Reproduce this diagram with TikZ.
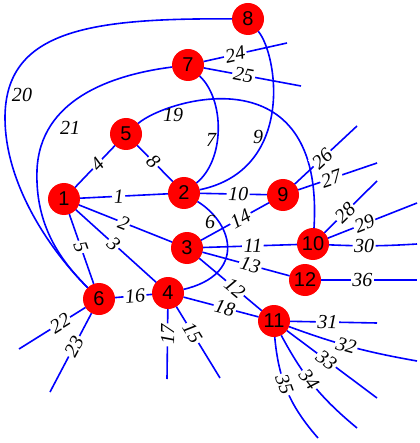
\documentclass[tikz,border=0pt]{standalone}
\usepackage{fontspec}
\setmainfont{Liberation Serif}
\newfontfamily\nodefont{Liberation Sans}
\begin{document}
\begin{tikzpicture}[x=1pt,y=-1pt,
  vtx/.style={circle, fill=red, draw=none, minimum size=32pt, inner sep=0pt, outer sep=0pt, font=\nodefont\fontsize{20}{20}\selectfont},
  edge/.style={draw=blue, line width=1.6pt},
  lbl/.style={fill=white, inner sep=1.5pt, font=\itshape\fontsize{20}{20}\selectfont, sloped},
  clbl/.style={inner sep=0pt, font=\itshape\fontsize{20}{20}\selectfont}]
\useasboundingbox (0,0) rectangle (419,443);
\fill[white] (0,0) rectangle (419,443);
% vertices
\node[vtx] (n1) at (64,199) {1};
\node[vtx] (n2) at (184,193) {2};
\node[vtx] (n3) at (187,248) {3};
\node[vtx] (n4) at (168,293) {4};
\node[vtx] (n5) at (126,134) {5};
\node[vtx] (n6) at (99,299) {6};
\node[vtx] (n7) at (188,65) {7};
\node[vtx] (n8) at (248,19) {8};
\node[vtx] (n9) at (283,195) {9};
\node[vtx] (n10) at (313,244) {10};
\node[vtx] (n11) at (274,321) {11};
\node[vtx] (n12) at (305,280) {12};
% free ends
\coordinate (e15) at (220,378);
\coordinate (e17) at (167,379);
\coordinate (e22) at (19,349);
\coordinate (e23) at (50,392);
\coordinate (e24) at (287,43);
\coordinate (e25) at (301,86);
\coordinate (e26) at (357,126);
\coordinate (e27) at (377,163);
\coordinate (e28) at (377,181);
\coordinate (e29) at (417,203);
\coordinate (e30) at (417,244);
\coordinate (e31) at (377,323);
\coordinate (e32) at (417,361);
\coordinate (e33) at (377,398);
\coordinate (e34) at (357,428);
\coordinate (e35) at (318,438);
\coordinate (e36) at (417,280);
\coordinate (m20) at (5,118);
\coordinate (m21) at (37,170);
% edges
\draw[edge] (n1) -- node[lbl,pos=0.44]{1} (n2);
\draw[edge] (n1) -- node[lbl,pos=0.48]{2} (n3);
\draw[edge] (n1) -- node[lbl,pos=0.47]{3} (n4);
\draw[edge] (n1) -- node[lbl,pos=0.56]{4} (n5);
\draw[edge] (n1) -- node[lbl,pos=0.47]{5} (n6);
\draw[edge] (n2) .. controls (235,225) and (245,275) .. (n4);
\node[clbl] (l6) at (210,222) {6};
\draw[edge] (n2) .. controls (225,160) and (225,100) .. (n7);
\node[clbl] (l7) at (211,140) {7};
\draw[edge] (n5) -- node[lbl,pos=0.45]{8} (n2);
\draw[edge] (n2) .. controls (295,170) and (278,55) .. (n8);
\node[clbl] (l9) at (258,137) {9};
\draw[edge] (n2) -- node[lbl,pos=0.57]{10} (n9);
\draw[edge] (n3) -- node[lbl,pos=0.53]{11} (n10);
\draw[edge] (n3) -- node[lbl,pos=0.57]{12} (n11);
\draw[edge] (n3) -- node[lbl,pos=0.55]{13} (n12);
\draw[edge] (n3) -- node[lbl,pos=0.58]{14} (n9);
\draw[edge] (n4) -- node[lbl,pos=0.37]{15} (e15);
\draw[edge] (n6) -- node[lbl,pos=0.54]{16} (n4);
\draw[edge] (n4) -- node[lbl,pos=0.37]{17} (e17);
\draw[edge] (n4) -- node[lbl,pos=0.55]{18} (n11);
\draw[edge] (n5) .. controls (165,100) and (325,50) .. (n10);
\node[clbl] (l19) at (173,115) {19};
\draw[edge] (n8) .. controls (90,18) and (5,30) .. (m20) .. controls (5,180) and (45,245) .. (n6);
\node[clbl] (l20) at (22,95) {20};
\draw[edge] (n7) .. controls (110,75) and (40,100) .. (m21) .. controls (35,225) and (60,260) .. (n6);
\node[clbl] (l21) at (70,128) {21};
\draw[edge] (n6) -- node[lbl,pos=0.38]{22} (e22);
\draw[edge] (n6) -- node[lbl,pos=0.42]{23} (e23);
\draw[edge] (n7) -- node[lbl,pos=0.38]{24} (e24);
\draw[edge] (n7) -- node[lbl,pos=0.41]{25} (e25);
\draw[edge] (n9) -- node[lbl,pos=0.44]{26} (e26);
\draw[edge] (n9) -- node[lbl,pos=0.42]{27} (e27);
\draw[edge] (n10) -- node[lbl,pos=0.39]{28} (e28);
\draw[edge] (n10) -- node[lbl,pos=0.41]{29} (e29);
\draw[edge] (n10) to[bend right=3] node[lbl,pos=0.39]{30} (e30);
\draw[edge] (n11) -- node[lbl,pos=0.43]{31} (e31);
\draw[edge] (n11) to[bend right=5] node[lbl,pos=0.45]{32} (e32);
\draw[edge] (n11) -- node[lbl,pos=0.44]{33} (e33);
\draw[edge] (n11) to[bend right=11] node[lbl,pos=0.43]{34} (e34);
\draw[edge] (n11) to[bend right=18] node[lbl,pos=0.43]{35} (e35);
\draw[edge] (n12) -- node[lbl,pos=0.43]{36} (e36);
\end{tikzpicture}
\end{document}
